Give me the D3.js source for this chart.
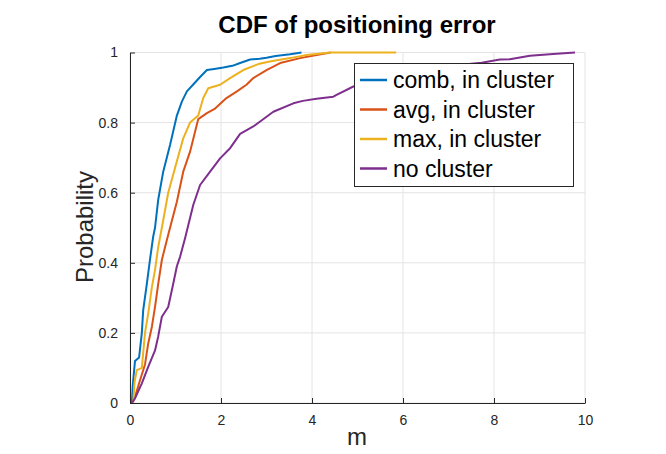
<!DOCTYPE html>
<html>
<head>
<meta charset="utf-8">
<script src="https://cdn.jsdelivr.net/npm/d3@7"></script>
<style>
  html, body { margin: 0; padding: 0; background: #fff; }
  svg { display: block; }
  text { font-family: "Liberation Sans", Arial, Helvetica, sans-serif; }
</style>
</head>
<body>
<svg id="chart" width="666" height="454"></svg>
<script>
// ---- data ----
const seriesNames = ["comb, in cluster", "avg, in cluster", "max, in cluster", "no cluster"];
const seriesColors = ["#0072BD", "#D95319", "#EDB120", "#7E2F8E"];

const combX = [0, 0.04, 0.06, 0.11, 0.2, 0.26, 0.29, 0.37, 0.44, 0.51, 0.55, 0.62, 0.73, 0.88, 1.03, 1.14, 1.25, 1.4, 1.54, 1.69, 1.85, 2.05, 2.25, 2.42, 2.64, 2.85, 3.0, 3.2, 3.52, 3.77];
const combY = [0, 0, 0.05, 0.12, 0.13, 0.2, 0.265, 0.34, 0.41, 0.475, 0.5, 0.58, 0.66, 0.736, 0.82, 0.86, 0.889, 0.91, 0.93, 0.95, 0.953, 0.957, 0.962, 0.97, 0.98, 0.982, 0.985, 0.99, 0.995, 1.0];

const avgX = [0, 0.05, 0.11, 0.22, 0.33, 0.40, 0.48, 0.55, 0.62, 0.70, 0.81, 0.88, 1.03, 1.17, 1.32, 1.43, 1.5, 1.69, 1.87, 2.12, 2.35, 2.56, 2.71, 3.0, 3.3, 3.74, 4.1, 4.41];
const avgY = [0, 0, 0.017, 0.065, 0.11, 0.17, 0.217, 0.274, 0.34, 0.408, 0.465, 0.5, 0.574, 0.66, 0.717, 0.774, 0.81, 0.827, 0.84, 0.87, 0.889, 0.908, 0.927, 0.95, 0.97, 0.984, 0.993, 1.0];

const maxX = [0, 0.07, 0.1, 0.15, 0.26, 0.33, 0.40, 0.48, 0.55, 0.62, 0.70, 0.84, 1.03, 1.17, 1.32, 1.5, 1.61, 1.72, 1.98, 2.2, 2.49, 2.82, 3.1, 3.52, 3.88, 4.2, 4.4, 5.85];
const maxY = [0, 0, 0.06, 0.094, 0.1, 0.2, 0.255, 0.33, 0.38, 0.445, 0.5, 0.6, 0.69, 0.755, 0.80, 0.82, 0.87, 0.898, 0.908, 0.927, 0.95, 0.967, 0.975, 0.984, 0.993, 0.997, 1.0, 1.0];

const noclX = [0, 0.04, 0.11, 0.26, 0.40, 0.55, 0.62, 0.70, 0.84, 0.95, 1.03, 1.10, 1.21, 1.39, 1.54, 1.76, 1.98, 2.2, 2.42, 2.71, 2.86, 3.15, 3.59, 3.8, 4.1, 4.47, 4.54, 4.91, 5.5, 6.2, 7.0, 7.5, 7.73, 8.13, 8.35, 8.79, 9.3, 9.78];
const noclY = [0, 0, 0.013, 0.056, 0.103, 0.15, 0.19, 0.246, 0.274, 0.34, 0.39, 0.417, 0.47, 0.565, 0.622, 0.66, 0.698, 0.727, 0.768, 0.789, 0.803, 0.831, 0.855, 0.862, 0.868, 0.874, 0.879, 0.903, 0.925, 0.945, 0.96, 0.968, 0.971, 0.98, 0.981, 0.991, 0.996, 1.0];

const xTicks = [0, 2, 4, 6, 8, 10];
const yTicks = [0, 0.2, 0.4, 0.6, 0.8, 1];

const titleText = "CDF of positioning error";
const xLabel = "m";
const yLabel = "Probability";

// ---- layout ----
const svg = d3.select("#chart");
const plotL = 130, plotR = 585, plotT = 52.5, plotB = 403;
const x = d3.scaleLinear().domain([0, 10]).range([plotL, plotR]);
const y = d3.scaleLinear().domain([0, 1]).range([plotB, plotT]);

const seriesData = [
  d3.zip(combX, combY),
  d3.zip(avgX, avgY),
  d3.zip(maxX, maxY),
  d3.zip(noclX, noclY)
];

// grid
const grid = svg.append("g");
grid.selectAll("line.gx").data(xTicks).join("line").attr("class", "gx")
  .attr("x1", d => x(d)).attr("x2", d => x(d))
  .attr("y1", plotT).attr("y2", plotB)
  .attr("stroke", "#e4e4e4").attr("stroke-width", 1);
grid.selectAll("line.gy").data(yTicks).join("line").attr("class", "gy")
  .attr("y1", d => y(d)).attr("y2", d => y(d))
  .attr("x1", plotL).attr("x2", plotR)
  .attr("stroke", "#e4e4e4").attr("stroke-width", 1);

// lines
const line = d3.line().x(d => x(d[0])).y(d => y(d[1]));
svg.append("g").selectAll("path").data(seriesData).join("path")
  .attr("d", line)
  .attr("fill", "none")
  .attr("stroke", (d, i) => seriesColors[i])
  .attr("stroke-width", 2)
  .attr("stroke-linejoin", "round");

// axes
const xAxis = d3.axisBottom(x).tickValues(xTicks).tickSizeInner(-5).tickSizeOuter(0).tickPadding(12).tickFormat(d3.format("d"));
const yAxis = d3.axisLeft(y).tickValues(yTicks).tickSizeInner(-5).tickSizeOuter(0).tickPadding(12).tickFormat(d => d === 0 || d === 1 ? String(d) : d3.format(".1f")(d));

const gx = svg.append("g").attr("transform", `translate(0,${plotB})`).call(xAxis);
const gy = svg.append("g").attr("transform", `translate(${plotL},0)`).call(yAxis);
[gx, gy].forEach(g => {
  g.select(".domain").attr("stroke", "#262626").attr("stroke-width", 1);
  g.selectAll(".tick line").attr("stroke", "#262626").attr("stroke-width", 1);
  g.selectAll(".tick text").attr("fill", "#262626")
    .style("font-size", "14px").style("font-family", "'Liberation Sans', Arial, sans-serif");
});

// title & labels
svg.append("text").attr("x", 357).attr("y", 33).attr("text-anchor", "middle")
  .style("font-size", "24px").style("font-weight", "bold").attr("fill", "#000").text(titleText);
svg.append("text").attr("x", 357).attr("y", 445).attr("text-anchor", "middle")
  .style("font-size", "24px").attr("fill", "#262626").text(xLabel);
svg.append("text").attr("transform", "translate(93,227) rotate(-90)").attr("text-anchor", "middle")
  .style("font-size", "24px").attr("fill", "#262626").text(yLabel);

// legend
const lg = svg.append("g");
lg.append("rect").attr("x", 354.5).attr("y", 63.5).attr("width", 219).attr("height", 123)
  .attr("fill", "#fff").attr("stroke", "#262626").attr("stroke-width", 1);
const rowY = [80, 109.5, 139, 168.5];
seriesNames.forEach((name, i) => {
  lg.append("line").attr("x1", 360).attr("x2", 387).attr("y1", rowY[i]).attr("y2", rowY[i])
    .attr("stroke", seriesColors[i]).attr("stroke-width", 2.5);
  lg.append("text").attr("x", 393).attr("y", rowY[i]).attr("dy", "0.35em")
    .style("font-size", "23px").attr("fill", "#000").text(name);
});
</script>
</body>
</html>
